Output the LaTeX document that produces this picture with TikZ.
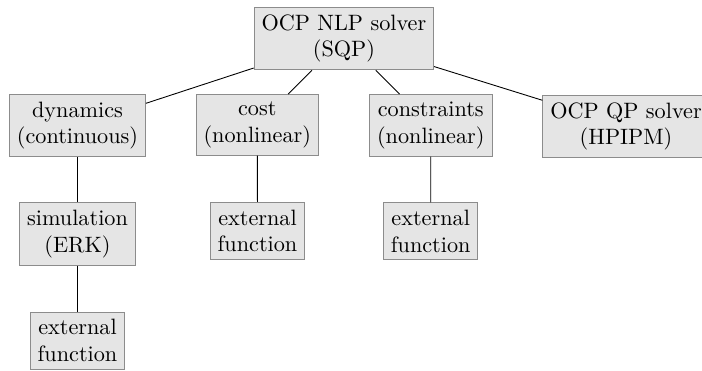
\documentclass[tikz,border=0pt]{standalone}
\usepackage{tikz}
\usetikzlibrary{shapes}
\usetikzlibrary{arrows}

\begin{document}
\begin{tikzpicture}[x=0.45pt,y=-0.45pt]
				\tikzstyle{block}=[rectangle,draw=black!45,fill=black!10,align=center,anchor=north]
				\tikzstyle{every node}=[block]
				\useasboundingbox (0,0) rectangle (702,370);
				
				\node (root) at (343.9,6.7) {OCP NLP solver\\(SQP)};
				\node (dyn) at (77.5,94) {dynamics\\(continuous)};
				\node (cost) at (257.3,94) {cost\\(nonlinear)};
				\node (constr) at (430.8,94) {constraints\\(nonlinear)};
				\node (qp) at (626,94.5) {OCP QP solver\\(HPIPM)};
				\node (sim) at (77.5,202.3) {simulation\\(ERK)};
				\node (extcost) at (257.5,201.8) {external\\function};
				\node (extconstr) at (430.7,202.3) {external\\function};
				\node (extdyn) at (77.5,311.7) {external\\function};
				
				\draw (root) -- (dyn);
				\draw (root) -- (cost);
				\draw (root) -- (constr);
				\draw (root) -- (qp);
				\draw (dyn) -- (sim);
				\draw (sim) -- (extdyn);
				\draw (cost) -- (extcost);
				\draw (constr) -- (extconstr);
				
			\end{tikzpicture}
\end{document}
